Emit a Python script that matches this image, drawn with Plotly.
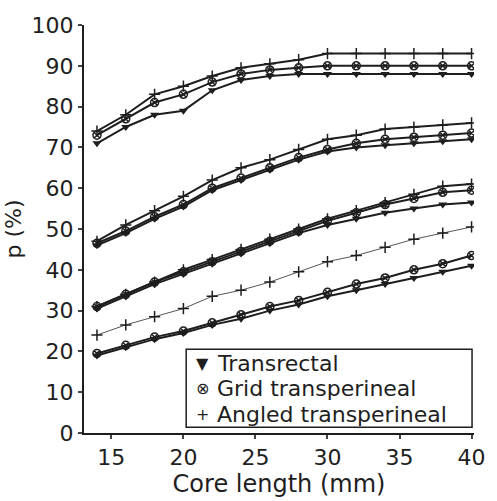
import plotly.graph_objects as go

core_length = [14, 16, 18, 20, 22, 24, 26, 28, 30, 32, 34, 36, 38, 40]

# group 1 (largest tumour)
g1_angled = [74, 78, 83, 85, 87.5, 89.5, 90.5, 91.5, 93, 93, 93, 93, 93, 93]
g1_grid = [73, 77, 81, 83, 86, 88, 89, 89.5, 90, 90, 90, 90, 90, 90]
g1_trans = [71, 75, 78, 79, 84, 86.5, 87.5, 88, 88, 88, 88, 88, 88, 88]
# group 2
g2_angled = [47, 51, 54.5, 58, 62, 65, 67, 69.5, 72, 73, 74.5, 75, 75.5, 76]
g2_grid = [46.5, 49.5, 53, 56, 60, 62.5, 65, 67.5, 69.5, 71, 72, 72.5, 73, 73.5]
g2_trans = [46, 49, 52.5, 55.5, 59.5, 62, 64.5, 67, 69, 70, 70.5, 71, 71.5, 72]
# group 3
g3_angled = [31, 34, 37, 40, 42.5, 45, 47.5, 50, 52.5, 54.5, 56.5, 58.5, 60.5, 61]
g3_grid = [31, 34, 37, 39.5, 42, 44.5, 47, 49.5, 52, 54, 56, 57.5, 59, 59.5]
g3_trans = [30.5, 33.5, 36.5, 39, 41.5, 44, 46.5, 49, 51, 52.5, 54, 55, 56, 56.5]
# group 4 (smallest tumour)
g4_angled = [24, 26.5, 28.5, 30.5, 33.5, 35, 37, 39.5, 42, 43.5, 45.5, 47.5, 49, 50.5]
g4_grid = [19.5, 21.5, 23.5, 25, 27, 29, 31, 32.5, 34.5, 36.5, 38, 40, 41.5, 43.5]
g4_trans = [19, 21, 23, 24.5, 26.5, 28, 30, 31.5, 33.5, 35, 36.5, 38, 39.5, 41]

legend_labels = ["Transrectal", "Grid transperineal", "Angled transperineal"]
legend_glyphs = ["\u25BC", "\u2297", "+"]

x_ticks = [15, 20, 25, 30, 35, 40]
y_ticks = [0, 10, 20, 30, 40, 50, 60, 70, 80, 90, 100]

INK = "#1e1e1e"
FONT = "DejaVu Sans"

fig = go.Figure()

styles = {
    "trans": dict(symbol="triangle-down", size=8, color=INK),
    "grid": dict(symbol="circle-x-open", size=8, color=INK, line=dict(width=1.5, color=INK)),
    "angled": dict(symbol="cross-thin-open", size=8, color=INK, line=dict(width=1.5, color=INK)),
}

series = [
    (g1_trans, "trans", 2), (g1_grid, "grid", 2), (g1_angled, "angled", 2),
    (g2_trans, "trans", 2), (g2_grid, "grid", 2), (g2_angled, "angled", 2),
    (g3_trans, "trans", 2), (g3_grid, "grid", 2), (g3_angled, "angled", 2),
    (g4_trans, "trans", 2), (g4_grid, "grid", 2), (g4_angled, "angled", 1),
]

for ys, kind, lw in series:
    fig.add_trace(go.Scatter(
        x=core_length, y=ys, mode="lines+markers",
        line=dict(color=INK if lw > 1 else "#555555", width=lw),
        marker=styles[kind], showlegend=False, hoverinfo="x+y",
    ))

# manual legend (box + text entries)
fig.add_shape(type="rect", xref="paper", yref="paper",
              x0=0.262, x1=0.995, y0=0.014, y1=0.205,
              line=dict(color=INK, width=1.5), fillcolor="white", layer="above")
row_y = [0.170, 0.108, 0.046]
for lab, glyph, yy in zip(legend_labels, legend_glyphs, row_y):
    fig.add_annotation(xref="paper", yref="paper", x=0.305, y=yy, text=glyph,
                       showarrow=False, xanchor="center", yanchor="middle",
                       font=dict(family=FONT, size=16, color=INK))
    fig.add_annotation(xref="paper", yref="paper", x=0.335, y=yy, text=lab,
                       showarrow=False, xanchor="left", yanchor="middle",
                       font=dict(family=FONT, size=22, color=INK))

fig.update_layout(
    width=497, height=501,
    margin=dict(l=80, r=15, t=25, b=58),
    paper_bgcolor="white", plot_bgcolor="white",
    font=dict(family=FONT, size=22, color=INK),
    xaxis=dict(range=[13.1, 40.17], tickvals=x_ticks, ticks="outside", ticklen=4,
               tickwidth=2, showline=True, linecolor=INK, linewidth=2,
               showgrid=False, zeroline=False,
               title=dict(text="Core length (mm)", font=dict(size=24), standoff=2),
               tickfont=dict(size=22)),
    yaxis=dict(range=[0, 100], tickvals=y_ticks, ticks="outside", ticklen=4,
               tickwidth=2, showline=True, linecolor=INK, linewidth=2,
               showgrid=False, zeroline=False,
               title=dict(text="p (%)", font=dict(size=22), standoff=4),
               tickfont=dict(size=22)),
)

fig.write_html("out.html")
